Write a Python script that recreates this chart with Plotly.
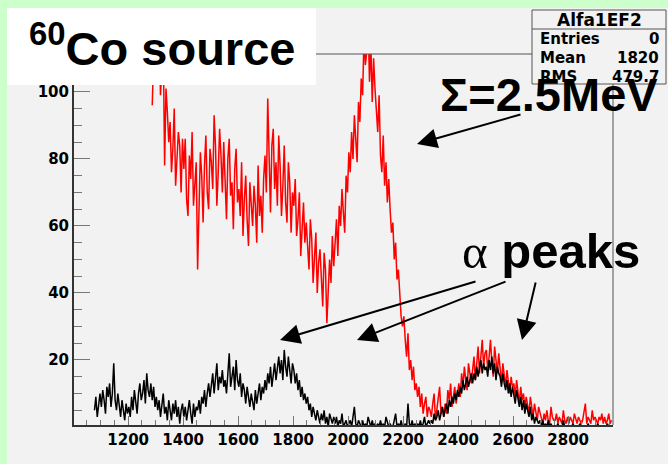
import numpy as np
import plotly.graph_objects as go

# ---------------- data (counts per 5-channel bin) ----------------
bin_width = 5
red_start = 1285
red_counts = [
    96, 118, 125, 103, 110, 122, 99, 107, 115,
    78, 101, 94, 85,
    91, 76, 83, 95, 72, 79, 88, 84, 70, 86,
    77, 86, 68, 63, 81, 74, 88, 66, 72, 79,
    47, 69, 82, 75, 61, 78, 87, 70, 65, 83,
    79, 71, 93, 84, 66, 76, 89, 81, 70, 85,
    74, 62, 80, 86, 69, 73, 59, 77, 83, 67,
    71, 63, 79, 57, 68, 75, 62, 54, 73, 66,
    60, 72, 66, 55, 78, 63, 69, 58, 74, 81,
    70, 98, 76, 64, 84, 89, 71, 79, 66, 87,
    78, 63, 72, 84, 67, 61, 79, 73, 58, 70,
    66, 74, 57, 62, 70, 51, 59, 67, 55, 61,
    54, 47, 62, 56, 43, 51, 58, 40, 49, 53,
    44, 36, 52, 47, 31, 39, 50, 43, 57, 48,
    55, 62, 51, 66, 60, 71, 64, 58, 75, 70,
    82, 76, 88, 80, 93, 86, 79, 97, 91, 104,
    99, 116, 108, 112, 121, 103, 114, 97, 110, 101,
    95, 88, 99, 81, 76, 87, 72, 79, 67, 74,
    65, 58, 61, 50, 55, 44, 47, 38, 33, 30,
    33, 26, 21, 28, 17, 20, 14, 18, 11, 13,
    9, 12, 6, 10, 4, 7, 9, 3, 6, 5,
    3, 7, 10, 2, 5, 8, 12, 4, 6, 3,
    7, 4, 11, 8, 13, 6, 9, 12, 7, 10,
    13, 9, 16, 12, 18, 14, 11, 19, 15, 13,
    17, 21, 14, 19, 24, 16, 20, 26, 18, 22,
    23, 17, 21, 26, 19, 15, 24, 20, 16, 22,
    18, 13, 19, 16, 12, 17, 14, 10, 15, 12,
    13, 9, 14, 11, 7, 12, 8, 10, 6, 9,
    7, 4, 9, 6, 3, 7, 5, 2, 6, 4,
    3, 1, 4, 2, 5, 2, 1, 6, 3, 2,
    2, 4, 1, 3, 2, 1, 5, 2, 1, 3,
    1, 3, 2, 1, 4, 2, 1, 3, 2, 1,
    2, 4, 7, 1, 3, 2, 1, 5, 2, 3,
    2, 1, 3, 2, 4, 1, 3, 1, 2, 4, 1, 2,
]
black_start = 1075
black_counts = [
    5, 9, 3, 7, 10,
    6, 11, 8, 4, 12, 9, 13, 6, 10, 19,
    8, 5, 10, 7, 3, 8, 5, 2, 7, 4,
    6, 3, 9, 5, 11, 7, 4, 10, 13, 8,
    10, 14, 7, 16, 11, 9, 13, 8, 12, 6,
    9, 5, 8, 3, 7, 10, 4, 6, 2, 8,
    5, 2, 7, 4, 8, 3, 6, 1, 5, 7,
    3, 6, 2, 5, 8, 4, 1, 7, 3, 6,
    5, 8, 4, 9, 7, 11, 6, 10, 13, 9,
    12, 16, 10, 14, 19, 11, 15, 13, 17, 12,
    14, 10, 16, 22, 12, 15, 18, 11, 20, 14,
    12, 16, 9, 13, 11, 7, 12, 9, 6, 10,
    8, 5, 11, 7, 10, 13, 8, 12, 10, 14,
    11, 16, 13, 18, 12, 15, 19, 14, 17, 21,
    16, 20, 14, 23, 18, 15, 21, 17, 13, 19,
    17, 13, 16, 11, 14, 9, 12, 8, 10, 7,
    9, 5, 7, 3, 6, 4, 2, 5, 3, 1,
    4, 2, 5, 1, 3, 0, 4, 2, 1, 3,
    1, 3, 0, 2, 1, 4, 0, 1, 2, 0,
    1, 2, 0, 3, 6, 1, 0, 2, 1, 0,
    2, 0, 1, 0, 3, 1, 0, 2, 0, 1,
    0, 1, 0, 2, 0, 1, 0, 3, 1, 0,
    1, 0, 0, 2, 4, 0, 1, 0, 2, 0,
    0, 1, 0, 7, 1, 0, 2, 0, 1, 0,
    1, 0, 2, 0, 1, 3, 0, 1, 2, 1,
    2, 1, 4, 2, 3, 5, 2, 4, 6, 3,
    5, 7, 4, 8, 6, 9, 7, 10, 8, 11,
    9, 12, 10, 14, 11, 13, 15, 12, 14, 16,
    13, 16, 14, 18, 15, 17, 20, 16, 19, 17,
    18, 15, 20, 17, 21, 16, 19, 14, 18, 16,
    15, 12, 16, 13, 11, 14, 10, 13, 9, 12,
    10, 7, 11, 8, 6, 9, 5, 8, 4, 7,
    5, 3, 6, 2, 4, 1, 3, 2, 1, 2,
    0, 2, 0, 1, 0, 2, 0, 1, 0, 0,
    0, 0, 1, 0, 0, 0, 2, 0, 0, 0,
    0, 0, 0, 1, 0, 0, 0, 0, 1, 0,
    0, 0, 0, 0, 1, 0, 0, 0, 0, 0,
    0, 1, 0, 0, 0, 0, 0, 0, 1, 0, 0, 0,
]
x_ticks = [1200, 1400, 1600, 1800, 2000, 2200, 2400, 2600, 2800]
y_ticks = [20, 40, 60, 80, 100]
stats_title = "Alfa1EF2"
stats_rows = [("Entries", "0"), ("Mean", "1820"), ("RMS", "479.7")]

red_x = red_start + bin_width * (np.arange(len(red_counts)) + 0.5)
black_x = black_start + bin_width * (np.arange(len(black_counts)) + 0.5)

# --------------- geometry helpers (pixel -> paper) ---------------
L, R, T, B = 74, 613, 54, 425
W, H = 668, 464
def PX(p):
    return (p - L) / (R - L)
def PY(p):
    return (B - p) / (B - T)

fig = go.Figure()
fig.add_trace(go.Scatter(x=red_x, y=red_counts, mode="lines",
                         line=dict(color="#ff0000", width=1.5), showlegend=False))
fig.add_trace(go.Scatter(x=black_x, y=black_counts, mode="lines",
                         line=dict(color="#000000", width=1.5), showlegend=False))

tickfont = dict(family="DejaVu Sans", size=15, color="black", weight="bold")
fig.update_xaxes(range=[1003, 2963], tickvals=x_ticks, ticks="inside", ticklen=9,
                 tickcolor="#777", tickwidth=1, showgrid=False, zeroline=False,
                 showline=True, linecolor="#333", linewidth=2, tickfont=tickfont,
                 minor=dict(dtick=50, tick0=1000, ticks="inside", ticklen=5, tickcolor="#777"))
fig.update_yaxes(range=[0.6, 111.3], tickvals=y_ticks, ticks="inside", ticklen=16,
                 tickcolor="#777", tickwidth=1, showgrid=False, zeroline=False,
                 showline=True, linecolor="#333", linewidth=2, tickfont=tickfont,
                 minor=dict(dtick=5, tick0=0, ticks="inside", ticklen=8, tickcolor="#777"))

shapes = [
    # pad
    dict(type="rect", xref="paper", yref="paper", x0=PX(7), x1=PX(W + 2), y0=PY(8), y1=PY(H + 2),
         fillcolor="#f2f2f2", line=dict(width=0), layer="below"),
    # frame top / right
    dict(type="line", xref="paper", yref="paper", x0=0, x1=1, y0=1, y1=1,
         line=dict(color="#555", width=1), layer="above"),
    dict(type="line", xref="paper", yref="paper", x0=1, x1=1, y0=0, y1=1,
         line=dict(color="#555", width=1), layer="above"),
    # title box
    dict(type="rect", xref="paper", yref="paper", x0=PX(7), x1=PX(316), y0=PY(85), y1=PY(8),
         fillcolor="white", line=dict(width=0), layer="above"),
    # stats box
    dict(type="rect", xref="paper", yref="paper", x0=PX(532), x1=PX(666), y0=PY(84), y1=PY(10),
         fillcolor="#f2f2f2", line=dict(color="#555", width=1), layer="above"),
    dict(type="line", xref="paper", yref="paper", x0=PX(532), x1=PX(666), y0=PY(29), y1=PY(29),
         line=dict(color="#555", width=1), layer="above"),
]

ann = []
sfont = dict(family="DejaVu Sans", size=15, color="black", weight="bold")
ann.append(dict(xref="paper", yref="paper", x=PX(599), y=PY(20), text=stats_title,
                showarrow=False, xanchor="center", yanchor="middle",
                font=dict(family="DejaVu Sans", size=17, color="black", weight="bold")))
for (lab, val), yy in zip(stats_rows, [39, 58, 77]):
    ann.append(dict(xref="paper", yref="paper", x=PX(538), y=PY(yy), text=lab, showarrow=False,
                    xanchor="left", yanchor="middle", font=sfont))
    ann.append(dict(xref="paper", yref="paper", x=PX(661), y=PY(yy), text=val, showarrow=False,
                    xanchor="right", yanchor="middle", font=sfont))

big = dict(family="Liberation Sans", size=47, color="black", weight="bold")
ann.append(dict(xref="paper", yref="paper", x=PX(27), y=PY(45), text="<sup>60</sup>Co source",
                showarrow=False, xanchor="left", yanchor="middle", font=big))
ann.append(dict(xref="paper", yref="paper", x=PX(438), y=PY(94), text="\u03a3=2.5MeV",
                showarrow=False, xanchor="left", yanchor="middle", font=big))
ann.append(dict(xref="paper", yref="paper", x=PX(460), y=PY(251),
                text="<span style='font-family:Liberation Serif;font-weight:normal'>\u03b1</span> peaks",
                showarrow=False, xanchor="left", yanchor="middle",
                font=dict(family="Liberation Sans", size=49, color="black", weight="bold")))

# arrows: (tip_x, tip_y, tail_x, tail_y) in pixels
arrows = [(417, 144, 522, 114), (280, 340, 477, 281), (357, 340, 507, 281), (522, 340, 536, 281)]
for tx, ty, sx, sy in arrows:
    ann.append(dict(xref="paper", yref="paper", x=PX(tx), y=PY(ty), text="",
                    showarrow=True, axref="pixel", ayref="pixel", ax=sx - tx, ay=sy - ty,
                    arrowhead=2, arrowsize=2, arrowwidth=2, arrowcolor="black", standoff=0))

fig.update_layout(width=W, height=H, margin=dict(l=L, r=W - R, t=T, b=H - B),
                  paper_bgcolor="#ccffcc", plot_bgcolor="#f2f2f2",
                  shapes=shapes, annotations=ann, showlegend=False)
fig.write_html("out.html")
